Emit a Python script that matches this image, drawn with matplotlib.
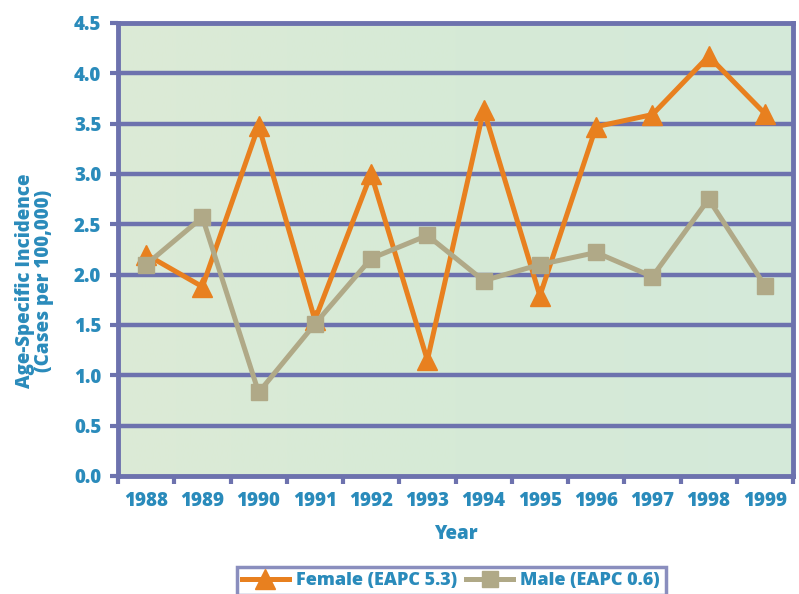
import matplotlib.pyplot as plt
import numpy as np
from matplotlib.colors import LinearSegmentedColormap

years = ["1988", "1989", "1990", "1991", "1992", "1993",
         "1994", "1995", "1996", "1997", "1998", "1999"]
female = [2.2, 1.88, 3.48, 1.55, 3.0, 1.15, 3.64, 1.79, 3.47, 3.59, 4.17, 3.6]
male = [2.1, 2.57, 0.83, 1.51, 2.16, 2.39, 1.94, 2.1, 2.22, 1.98, 2.75, 1.89]
y_ticks = [0.0, 0.5, 1.0, 1.5, 2.0, 2.5, 3.0, 3.5, 4.0, 4.5]

text_col = '#2a8bbb'
frame_col = '#6d72ae'
orange = '#e8801f'
tan = '#b0a987'
wt = 800

plt.rcParams['font.family'] = ['Open Sans', 'DejaVu Sans']
plt.rcParams['font.weight'] = wt

fig = plt.figure(figsize=(7.99, 5.94), dpi=100)
ax = fig.add_axes([0.1477, 0.1987, 0.8448, 0.7626])

# soft green background with a gentle gradient
grad = np.linspace(0, 1, 256).reshape(1, -1)
cmap = LinearSegmentedColormap.from_list('bg', ['#dcebd6', '#d6ead6', '#d4e9da'])
ax.imshow(grad, cmap=cmap, aspect='auto', extent=[-0.5, 11.5, 0, 4.5], zorder=0)

for yv in y_ticks[1:-1]:
    ax.axhline(yv, color=frame_col, lw=3.2, zorder=1)

x = np.arange(len(years))
ax.plot(x, female, color=orange, lw=3.6, marker='^', markersize=14,
        label='Female (EAPC 5.3)', zorder=3)
ax.plot(x, male, color=tan, lw=3.6, marker='s', markersize=12,
        label='Male (EAPC 0.6)', zorder=4)

ax.set_xlim(-0.5, 11.5)
ax.set_ylim(0, 4.5)

for s in ax.spines.values():
    s.set_color(frame_col)
    s.set_linewidth(3.5)

ax.set_yticks(y_ticks)
ax.set_yticklabels([f'{v:.1f}' for v in y_ticks])
ax.tick_params(axis='y', length=6, width=3, color=frame_col, labelsize=13.5, pad=6)

# year labels sit between tick marks placed at the category edges
ax.set_xticks(np.arange(-0.5, 12, 1))
ax.set_xticklabels([])
ax.set_xticks(x, minor=True)
ax.set_xticklabels(years, minor=True)
ax.tick_params(axis='x', which='major', length=6, width=3, color=frame_col)
ax.tick_params(axis='x', which='minor', length=0, labelsize=13.5, pad=11)
for lbl in ax.get_yticklabels() + ax.get_xticklabels(minor=True):
    lbl.set_color(text_col)
    lbl.set_fontweight(wt)

ax.set_xlabel('Year', color=text_col, fontsize=13.5, fontweight=wt, labelpad=9)
ax.set_ylabel('Age-Specific Incidence\n(Cases per 100,000)', color=text_col,
              fontsize=13.5, fontweight=wt, linespacing=0.95)
ax.yaxis.set_label_coords(-0.095, 0.43)

leg = fig.legend(loc='upper center', bbox_to_anchor=(0.5645, 0.061), ncol=2,
                 frameon=True, fancybox=False, fontsize=13, handlelength=2.6,
                 columnspacing=0.5, handletextpad=0.4, borderpad=0.3)
leg.get_frame().set_edgecolor(frame_col)
leg.get_frame().set_linewidth(2.5)
for t in leg.get_texts():
    t.set_color(text_col)
    t.set_fontweight(wt)

fig.savefig('out.png', dpi=100)
